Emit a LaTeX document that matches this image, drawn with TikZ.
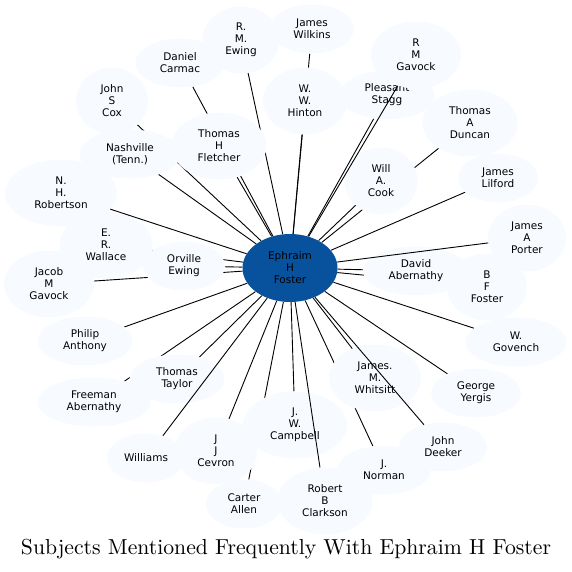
\documentclass[tikz,border=0pt]{standalone}
\usepackage{fontspec}
\usepackage{graphicx}
\usepackage{tikz}
\usetikzlibrary{shapes.geometric,backgrounds}
\newfontfamily\subjsans{DejaVu Sans}
\definecolor{subjfill}{HTML}{F7FBFF}
\definecolor{hubfill}{HTML}{08519C}
\tikzset{
  subj/.style={ellipse, fill=subjfill, inner sep=0pt, align=center,
               font=\subjsans\fontsize{10.5}{12}\selectfont, minimum height=49pt},
  subjL/.style={subj, minimum height=67pt},
  hub/.style={subjL, fill=hubfill, minimum width=95pt, minimum height=68pt},
  link/.style={line width=0.9pt}
}

\begin{document}
\begin{tikzpicture}[x=1pt, y=-1pt]
  \useasboundingbox (0,0) rectangle (572,571);

  % ===== Hub =====
  \node[hub] (foster) at (290,268) {Ephraim\\H\\Foster};

  % ===== Upper ring =====
  \node[subjL, minimum width=77pt]  (ewing)     at (241,40)  {R.\\M.\\Ewing};
  \node[subj,  minimum width=84pt]  (wilkins)   at (312,29)  {James\\Wilkins};
  \node[subj,  minimum width=89pt]  (carmac)    at (180,63)  {Daniel\\Carmac};
  \node[subjL, minimum width=72pt]  (cox)       at (112,101) {John\\S\\Cox};
  \node[subjL, minimum width=84pt]  (hinton)    at (305,101) {W.\\W.\\Hinton};
  \node[subj,  minimum width=95pt]  (stagg)     at (387,95)  {Pleasant\\Stagg};
  \node[subjL, minimum width=90pt]  (rmgavock)  at (416,55)  {R\\M\\Gavock};
  \node[subjL, minimum width=95pt]  (duncan)    at (470,123) {Thomas\\A\\Duncan};
  \node[subj,  minimum width=101pt] (nashville) at (130,154) {Nashville\\(Tenn.)};
  \node[subjL, minimum width=95pt]  (fletcher)  at (219,146) {Thomas\\H\\Fletcher};
  \node[subjL, minimum width=73pt]  (cook)      at (381,181) {Will\\A.\\Cook};
  \node[subj,  minimum width=80pt]  (lilford)   at (498,178) {James\\Lilford};
  \node[subjL, minimum width=112pt] (robertson) at (61,193)  {N.\\H.\\Robertson};

  % ===== Middle ring =====
  \node[subjL, minimum width=93pt]  (wallace)   at (106,245) {E.\\R.\\Wallace};
  \node[subjL, minimum width=90pt]  (jmgavock)  at (49,284)  {Jacob\\M\\Gavock};
  \node[subj,  minimum width=82pt]  (orville)   at (184,266) {Orville\\Ewing};
  \node[subjL, minimum width=78pt]  (porter)    at (527,238) {James\\A\\Porter};
  \node[subj,  minimum width=106pt] (davidab)   at (416,271) {David\\Abernathy};
  \node[subjL, minimum width=80pt]  (bffoster)  at (487,287) {B\\F\\Foster};
  \node[subj,  minimum width=95pt]  (anthony)   at (85,341)  {Philip\\Anthony};
  \node[subj,  minimum width=101pt] (govench)   at (516,342) {W.\\Govench};

  % ===== Lower ring =====
  \node[subj,  minimum width=113pt] (freeman)   at (94,402)  {Freeman\\Abernathy};
  \node[subj,  minimum width=95pt]  (taylor)    at (177,379) {Thomas\\Taylor};
  \node[subjL, minimum width=92pt]  (whitsitt)  at (375,378) {James.\\M.\\Whitsitt};
  \node[subj,  minimum width=90pt]  (yergis)    at (476,393) {George\\Yergis};
  \node[subj,  minimum width=88pt]  (deeker)    at (443,447) {John\\Deeker};
  \node[subjL, minimum width=104pt] (campbell)  at (295,425) {J.\\W.\\Campbell};
  \node[subj,  minimum width=78pt]  (williams)  at (146,458) {Williams};
  \node[subjL, minimum width=83pt]  (cevron)    at (216,451) {J\\J\\Cevron};
  \node[subj,  minimum width=93pt]  (norman)    at (384,470) {J.\\Norman};
  \node[subj,  minimum width=76pt]  (allen)     at (244,504) {Carter\\Allen};
  \node[subjL, minimum width=95pt]  (clarkson)  at (325,501) {Robert\\B\\Clarkson};

  % ===== Links hidden behind the other ellipses =====
  \begin{pgfonlayer}{background}
    \foreach \n in {ewing,wilkins,carmac,cox,hinton,stagg,duncan,nashville,
                    fletcher,cook,lilford,wallace,jmgavock,orville,davidab,
                    bffoster,anthony,govench,freeman,taylor,whitsitt,yergis,
                    campbell,cevron,norman,allen}
      \draw[link] (foster) -- (\n);
  \end{pgfonlayer}

  % ===== Links drawn over the ellipses =====
  \foreach \n in {rmgavock,robertson,porter,williams,deeker,clarkson}
    \draw[link] (foster) -- (\n);

  % title
  \node (title) at (286,549) {\scalebox{2.17}{Subjects Mentioned Frequently With Ephraim H Foster}};

\end{tikzpicture}
\end{document}
